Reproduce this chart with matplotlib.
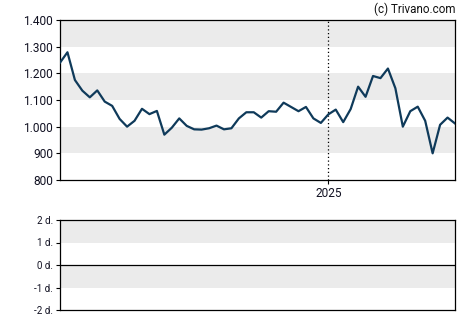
import matplotlib
matplotlib.use("Agg")
import matplotlib.pyplot as plt
import matplotlib.dates as mdates
import numpy as np
import pandas as pd

plt.rcParams['font.family'] = ['Roboto', 'DejaVu Sans']

# weekly closing prices
dates = pd.date_range("2024-04-24", periods=54, freq="7D")
prices = [1240, 1279, 1175, 1135, 1110, 1136, 1094, 1078, 1029, 1000,
          1022, 1067, 1047, 1059, 970, 996, 1031, 1003, 990, 989,
          994, 1004, 990, 994, 1031, 1054, 1054, 1034, 1058, 1056,
          1090, 1074, 1058, 1074, 1031, 1014, 1046, 1064, 1017, 1066,
          1150, 1112, 1190, 1182, 1218, 1144, 1000, 1058, 1075, 1022,
          900, 1007, 1034, 1012]

price_ticks = [800, 900, 1000, 1100, 1200, 1300, 1400]
price_labels = ["800", "900", "1.000", "1.100", "1.200", "1.300", "1.400"]
lower_ticks = [-2, -1, 0, 1, 2]
lower_labels = ["-2 d.", "-1 d.", "0 d.", "1 d.", "2 d."]
year_mark = pd.Timestamp("2025-01-01")

band = "#ebebeb"
line_col = "#0f3a5a"

fig = plt.figure(figsize=(4.7, 3.25), dpi=100)
W, H = 470, 325
ax = fig.add_axes([60 / W, 1 - 180 / H, 395 / W, 160 / H])
ax2 = fig.add_axes([60 / W, 1 - 310 / H, 395 / W, 90 / H])

# top panel
for lo in [900, 1100, 1300]:
    ax.axhspan(lo, lo + 100, color=band, lw=0, zorder=0)
ax.axvline(year_mark, color="black", ls=(0, (1, 2)), lw=0.9, zorder=1)
ax.plot(dates, prices, color=line_col, lw=1.6, zorder=3)
ax.set_xlim(dates[0], dates[-1])
ax.set_ylim(800, 1400)
ax.set_yticks(price_ticks)
ax.set_yticklabels(price_labels)
ax.set_xticks([year_mark])
ax.xaxis.set_major_formatter(mdates.DateFormatter("%Y"))
ax.tick_params(axis="both", labelsize=8.6, length=3, width=0.8, color="black",
               labelcolor="#111122", pad=2)
for s in ax.spines.values():
    s.set_linewidth(0.9)

# lower panel
for lo in [1, -1]:
    ax2.axhspan(lo, lo + 1, color=band, lw=0, zorder=0)
ax2.axhline(0, color="black", lw=0.9, zorder=2)
ax2.set_xlim(dates[0], dates[-1])
ax2.set_ylim(-2, 2)
ax2.set_yticks(lower_ticks)
ax2.set_yticklabels(lower_labels)
ax2.set_xticks([])
ax2.tick_params(axis="y", labelsize=7, length=3, width=0.8, labelcolor="#111122", pad=2)
for s in ax2.spines.values():
    s.set_linewidth(0.9)

fig.text(455 / W, 1 - 9 / H, "(c) Trivano.com", ha="right", va="center",
         fontsize=8.4, color="#111111")

fig.savefig("out.png", dpi=100)
plt.close(fig)
